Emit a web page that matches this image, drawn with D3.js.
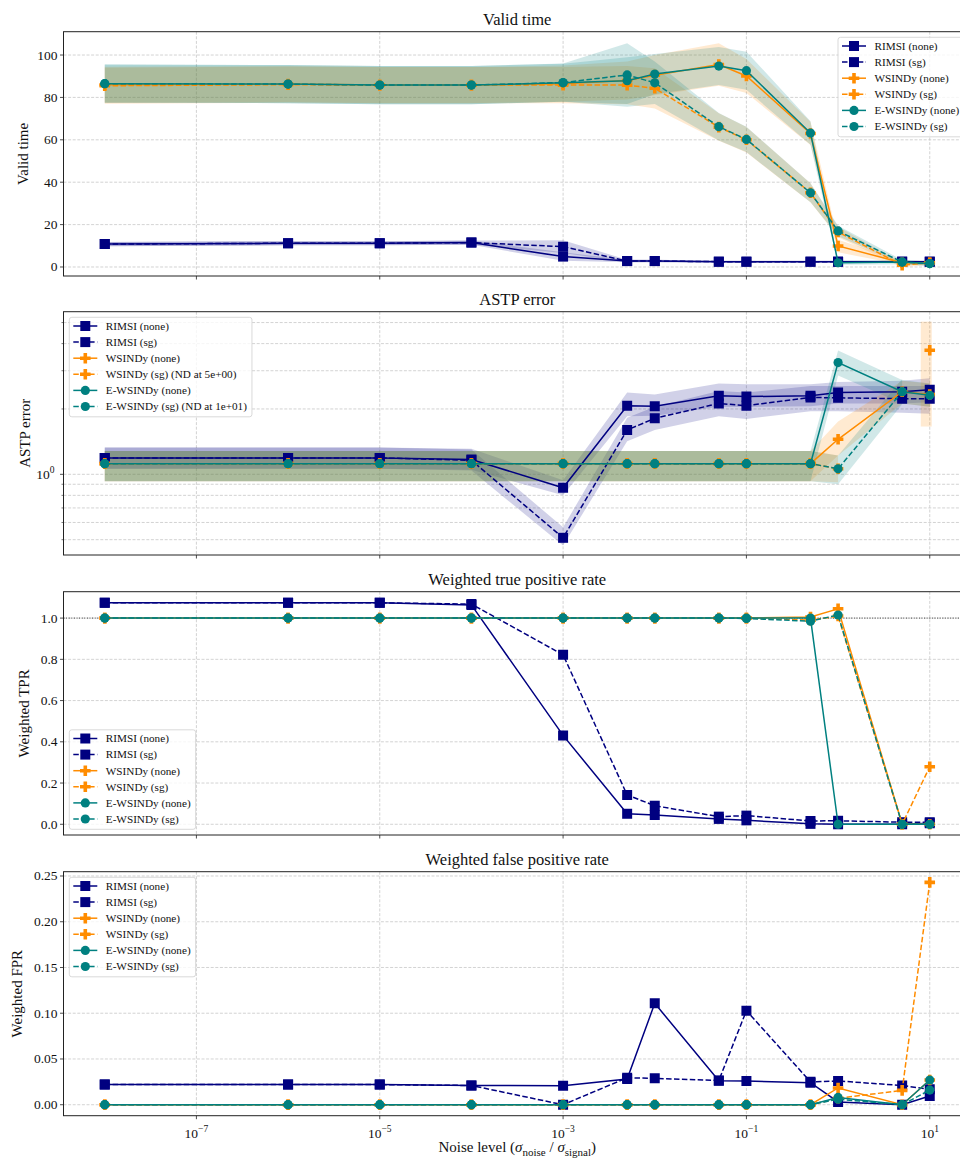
<!DOCTYPE html>
<html><head><meta charset="utf-8">
<script src="https://cdn.jsdelivr.net/npm/d3@7"></script>
<style>body{margin:0;background:#fff}svg{display:block}text{font-family:"Liberation Serif","Times New Roman",serif;fill:#111}</style>
</head><body><svg id="c" width="960" height="1160"></svg>
<script>
// ---------------- DATA ----------------
const noiseLevels = [1e-8, 1e-6, 1e-5, 1e-4, 1e-3, 5e-3, 1e-2, 5e-2, 1e-1, 5e-1, 1, 5, 10];
const seriesNames = ["RIMSI (none)", "RIMSI (sg)", "WSINDy (none)", "WSINDy (sg)", "E-WSINDy (none)", "E-WSINDy (sg)"];
const seriesMethod = ["RIMSI", "RIMSI", "WSINDy", "WSINDy", "E-WSINDy", "E-WSINDy"];
const seriesDashed = [false, true, false, true, false, true];
const methodColors = {"RIMSI": "#000080", "WSINDy": "#ff8c00", "E-WSINDy": "#008080"};
const astpLegendNames = ["RIMSI (none)", "RIMSI (sg)", "WSINDy (none)", "WSINDy (sg) (ND at 5e+00)", "E-WSINDy (none)", "E-WSINDy (sg) (ND at 1e+01)"];
const xTickValues = [1e-7, 1e-5, 1e-3, 1e-1, 1e1];
const xTickExponents = ["\u22127", "\u22125", "\u22123", "\u22121", "1"];

// Valid time (mean and spread)
const vtRimsiNone = [10.8, 11.2, 11.2, 11.5, 4.9, 2.8, 2.8, 2.5, 2.5, 2.5, 2.5, 2.5, 2.5];
const vtRimsiSg   = [10.8, 11.2, 11.2, 11.5, 9.6, 2.8, 2.8, 2.5, 2.5, 2.5, 2.5, 2.5, 2.5];
const vtWsNone    = [86.0, 86.3, 85.8, 85.8, 86.5, 88.0, 90.5, 95.5, 90.1, 63.0, 9.9, 2.0, 2.0];
const vtWsSg      = [85.5, 86.0, 85.8, 85.8, 85.8, 85.8, 84.3, 66.0, 60.0, 35.0, 16.5, 0.9, 2.0];
const vtEwNone    = [86.5, 86.3, 85.8, 85.8, 86.9, 87.9, 91.0, 94.8, 92.6, 63.2, 2.0, 2.3, 1.6];
const vtEwSg      = [86.5, 86.3, 85.8, 85.8, 87.0, 90.6, 86.9, 66.2, 60.2, 35.0, 17.0, 2.3, 1.6];
const vtSdRimsiNone = [1.0, 1.0, 1.0, 1.0, 2.0, 0.6, 0.6, 0.4, 0.4, 0.4, 0.4, 0.4, 0.4];
const vtSdRimsiSg   = [1.0, 1.0, 1.0, 1.0, 3.0, 0.6, 0.6, 0.4, 0.4, 0.4, 0.4, 0.4, 0.4];
const vtSdWsNone    = [8.5, 8.5, 8.5, 8.5, 8.5, 9.0, 9.5, 10.0, 8.0, 5.5, 3.0, 1.0, 1.0];
const vtSdWsSg      = [8.5, 8.5, 8.5, 8.5, 8.5, 9.0, 9.5, 6.5, 6.0, 4.5, 2.5, 1.0, 1.0];
const vtSdEwNone    = [9.0, 9.0, 9.0, 9.0, 9.0, 11.0, 9.5, 9.0, 9.0, 5.5, 1.0, 1.0, 1.0];
const vtSdEwSg      = [9.0, 9.0, 9.0, 9.0, 9.0, 15.0, 10.0, 6.5, 6.0, 4.5, 2.5, 1.0, 1.0];

// ASTP error (mean, lower, upper)
const astpRimsiNone = [1.19, 1.19, 1.19, 1.17, 0.867, 2.07, 2.06, 2.30, 2.28, 2.30, 2.38, 2.40, 2.45];
const astpRimsiSg   = [1.19, 1.19, 1.19, 1.16, 0.51, 1.60, 1.81, 2.12, 2.07, 2.26, 2.25, 2.23, 2.23];
const astpWsNone    = [1.12, 1.12, 1.12, 1.12, 1.12, 1.12, 1.12, 1.12, 1.12, 1.12, 1.45, 2.40, 2.33];
const astpWsSg      = [1.12, 1.12, 1.12, 1.12, 1.12, 1.12, 1.12, 1.12, 1.12, 1.12, 1.06, null, 3.73];
const astpEwNone    = [1.12, 1.12, 1.12, 1.12, 1.12, 1.12, 1.12, 1.12, 1.12, 1.12, 3.27, 2.40, 2.31];
const astpEwSg      = [1.12, 1.12, 1.12, 1.12, 1.12, 1.12, 1.12, 1.12, 1.12, 1.12, 1.06, 2.40, null];
const astpLoRimsiNone = [1.06, 1.06, 1.06, 1.05, 0.80, 1.85, 1.86, 2.05, 2.04, 2.06, 2.12, 2.12, 2.15];
const astpHiRimsiNone = [1.33, 1.33, 1.33, 1.31, 0.94, 2.38, 2.33, 2.62, 2.60, 2.60, 2.66, 2.70, 2.77];
const astpLoRimsiSg   = [1.06, 1.06, 1.06, 1.04, 0.47, 1.42, 1.60, 1.85, 1.80, 1.95, 1.95, 1.92, 1.90];
const astpHiRimsiSg   = [1.33, 1.33, 1.33, 1.30, 0.57, 1.82, 2.05, 2.42, 2.38, 2.55, 2.55, 2.55, 2.55];
const astpLoWsNone    = [0.93, 0.93, 0.93, 0.93, 0.93, 0.93, 0.93, 0.93, 0.93, 0.93, 1.22, 2.12, 2.05];
const astpHiWsNone    = [1.28, 1.28, 1.28, 1.28, 1.28, 1.28, 1.28, 1.28, 1.28, 1.28, 1.75, 2.70, 2.62];
const astpLoWsSg      = [0.93, 0.93, 0.93, 0.93, 0.93, 0.93, 0.93, 0.93, 0.93, 0.93, 0.92, null, 1.66];
const astpHiWsSg      = [1.28, 1.28, 1.28, 1.28, 1.28, 1.28, 1.28, 1.28, 1.28, 1.28, 1.22, null, 5.05];
const astpLoEwNone    = [0.93, 0.93, 0.93, 0.93, 0.93, 0.93, 0.93, 0.93, 0.93, 0.93, 2.85, 2.12, 2.05];
const astpHiEwNone    = [1.28, 1.28, 1.28, 1.28, 1.28, 1.28, 1.28, 1.28, 1.28, 1.28, 3.72, 2.72, 2.62];
const astpLoEwSg      = [0.93, 0.93, 0.93, 0.93, 0.93, 0.93, 0.93, 0.93, 0.93, 0.93, 0.90, 2.10, null];
const astpHiEwSg      = [1.28, 1.28, 1.28, 1.28, 1.28, 1.28, 1.28, 1.28, 1.28, 1.28, 1.22, 2.75, null];

// Weighted TPR
const tprRimsiNone = [1.074, 1.074, 1.074, 1.064, 0.431, 0.051, 0.045, 0.026, 0.019, 0.002, 0.0, 0.0, 0.005];
const tprRimsiSg   = [1.074, 1.074, 1.074, 1.068, 0.822, 0.142, 0.090, 0.037, 0.042, 0.016, 0.017, 0.010, 0.010];
const tprWsNone    = [1.0, 1.0, 1.0, 1.0, 1.0, 1.0, 1.0, 1.0, 1.0, 1.005, 1.045, 0.0, 0.0];
const tprWsSg      = [1.0, 1.0, 1.0, 1.0, 1.0, 1.0, 1.0, 1.0, 1.0, 0.99, 1.01, 0.0, 0.279];
const tprEwNone    = [1.0, 1.0, 1.0, 1.0, 1.0, 1.0, 1.0, 1.0, 1.0, 1.0, 0.0, 0.0, 0.0];
const tprEwSg      = [1.0, 1.0, 1.0, 1.0, 1.0, 1.0, 1.0, 1.0, 0.998, 0.985, 1.015, 0.0, 0.0];

// Weighted FPR
const fprRimsiNone = [0.022, 0.022, 0.022, 0.021, 0.0208, 0.028, 0.1108, 0.0263, 0.0259, 0.0241, 0.003, 0.0, 0.0095];
const fprRimsiSg   = [0.022, 0.022, 0.022, 0.021, 0.0, 0.0295, 0.0288, 0.0265, 0.1028, 0.025, 0.026, 0.021, 0.0168];
const fprWsNone    = [0.0, 0.0, 0.0, 0.0, 0.0, 0.0, 0.0, 0.0, 0.0, 0.0, 0.0183, 0.0, 0.027];
const fprWsSg      = [0.0, 0.0, 0.0, 0.0, 0.0, 0.0, 0.0, 0.0, 0.0, 0.0, 0.007, 0.0157, 0.243];
const fprEwNone    = [0.0, 0.0, 0.0, 0.0, 0.0, 0.0, 0.0, 0.0, 0.0, 0.0, 0.008, 0.0, 0.027];
const fprEwSg      = [0.0, 0.0, 0.0, 0.0, 0.0, 0.0, 0.0, 0.0, 0.0, 0.0, 0.006, 0.0, 0.016];

// ---------------- BUILD ----------------
const svg = d3.select("#c");
const X0 = 63.5, X1 = 971;
const x = d3.scaleLog().domain([Math.pow(10, -8.45), Math.pow(10, 1.45)]).range([X0, X1]);

const vtVals = [vtRimsiNone, vtRimsiSg, vtWsNone, vtWsSg, vtEwNone, vtEwSg];
const vtSds = [vtSdRimsiNone, vtSdRimsiSg, vtSdWsNone, vtSdWsSg, vtSdEwNone, vtSdEwSg];
const panels = [
  {title: "Valid time", ylabel: "Valid time", top: 31.7, bottom: 276, type: "lin",
   domain: [-4.25, 111.0], ticks: [0, 20, 40, 60, 80, 100], fmt: d3.format("d"), ylabX: 28,
   vals: vtVals,
   lo: vtVals.map((v, i) => v.map((d, j) => d - vtSds[i][j])),
   hi: vtVals.map((v, i) => v.map((d, j) => d + vtSds[i][j])),
   legend: {names: seriesNames, anchor: "tr", left: 838, top: 37.3}},
  {title: "ASTP error", ylabel: "ASTP error", top: 311.7, bottom: 555, type: "log",
   domain: [0.425, 5.61], ticks: [1], minor: [0.5, 0.6, 0.7, 0.8, 0.9, 2, 3, 4, 5], ylabX: 30,
   vals: [astpRimsiNone, astpRimsiSg, astpWsNone, astpWsSg, astpEwNone, astpEwSg],
   lo: [astpLoRimsiNone, astpLoRimsiSg, astpLoWsNone, astpLoWsSg, astpLoEwNone, astpLoEwSg],
   hi: [astpHiRimsiNone, astpHiRimsiSg, astpHiWsNone, astpHiWsSg, astpHiEwNone, astpHiEwSg],
   legend: {names: astpLegendNames, anchor: "tl", left: 69.3, top: 317.3}},
  {title: "Weighted true positive rate", ylabel: "Weighted TPR", top: 591.7, bottom: 835, type: "lin",
   domain: [-0.052, 1.128], ticks: [0, 0.2, 0.4, 0.6, 0.8, 1.0], fmt: d3.format(".1f"), ylabX: 29, refLine: 1.0,
   vals: [tprRimsiNone, tprRimsiSg, tprWsNone, tprWsSg, tprEwNone, tprEwSg],
   legend: {names: seriesNames, anchor: "bl", left: 69.3, top: 729.8}},
  {title: "Weighted false positive rate", ylabel: "Weighted FPR", top: 871.7, bottom: 1115.7, type: "lin",
   domain: [-0.012, 0.2547], ticks: [0, 0.05, 0.10, 0.15, 0.20, 0.25], fmt: d3.format(".2f"), ylabX: 22, xLabels: true,
   vals: [fprRimsiNone, fprRimsiSg, fprWsNone, fprWsSg, fprEwNone, fprEwSg],
   legend: {names: seriesNames, anchor: "tl", left: 69.3, top: 877.3}}
];

function markerPath(method) {
  if (method === "RIMSI") { const s = 10; return `M${-s/2},${-s/2}h${s}v${s}h${-s}Z`; }
  if (method === "WSINDy") {
    const a = 5.3, t = 1.8;
    return `M${-t},${-a}H${t}V${-t}H${a}V${t}H${t}V${a}H${-t}V${t}H${-a}V${-t}H${-t}Z`;
  }
  return d3.symbol(d3.symbolCircle, Math.PI * 4.6 * 4.6)();
}

const gridColor = "#c8c8c8";
const FONT_TICK = 13.5;

panels.forEach((p, pi) => {
  const y = (p.type === "log" ? d3.scaleLog() : d3.scaleLinear()).domain(p.domain).range([p.bottom, p.top]);
  const g = svg.append("g");
  const clipId = "clip" + pi;
  svg.append("clipPath").attr("id", clipId).append("rect")
    .attr("x", X0).attr("y", p.top).attr("width", X1 - X0).attr("height", p.bottom - p.top);

  // grid
  const gridG = g.append("g").attr("stroke", gridColor).attr("stroke-width", 0.8).attr("stroke-dasharray", "3,1.6");
  xTickValues.forEach(v => gridG.append("line").attr("x1", x(v)).attr("x2", x(v)).attr("y1", p.top).attr("y2", p.bottom));
  const yGrid = p.ticks.concat(p.minor || []);
  yGrid.forEach(v => gridG.append("line").attr("x1", X0).attr("x2", X1).attr("y1", y(v)).attr("y2", y(v)));

  if (p.refLine !== undefined) {
    g.append("line").attr("x1", X0).attr("x2", X1).attr("y1", y(p.refLine)).attr("y2", y(p.refLine))
      .attr("stroke", "#222").attr("stroke-width", 0.9).attr("stroke-dasharray", "1,1.6");
  }

  const plotG = g.append("g").attr("clip-path", `url(#${clipId})`);
  // bands
  if (p.lo) {
    p.vals.forEach((vals, si) => {
      const col = methodColors[seriesMethod[si]];
      const pts = noiseLevels.map((n, j) => ({n, lo: p.lo[si][j], hi: p.hi[si][j]}));
      const def = d => d.lo != null && d.hi != null;
      const area = d3.area().defined(def).x(d => x(d.n)).y0(d => y(d.lo)).y1(d => y(d.hi));
      plotG.append("path").attr("d", area(pts)).attr("fill", col).attr("fill-opacity", 0.18).attr("stroke", "none");
      // isolated points: draw a thin bar
      pts.forEach((d, j) => {
        if (!def(d)) return;
        const prev = j > 0 && def(pts[j - 1]);
        const next = j < pts.length - 1 && def(pts[j + 1]);
        if (!prev && !next) {
          plotG.append("rect").attr("x", x(d.n) - 9).attr("width", 11)
            .attr("y", y(d.hi)).attr("height", y(d.lo) - y(d.hi))
            .attr("fill", col).attr("fill-opacity", 0.18);
        }
      });
    });
  }
  // lines + markers
  p.vals.forEach((vals, si) => {
    const col = methodColors[seriesMethod[si]];
    const pts = noiseLevels.map((n, j) => ({n, v: vals[j]}));
    const line = d3.line().defined(d => d.v != null).x(d => x(d.n)).y(d => y(d.v));
    plotG.append("path").attr("d", line(pts)).attr("fill", "none").attr("stroke", col)
      .attr("stroke-width", 1.5).attr("stroke-dasharray", seriesDashed[si] ? "5.5,2.4" : null);
    const mp = markerPath(seriesMethod[si]);
    pts.filter(d => d.v != null).forEach(d => {
      plotG.append("path").attr("d", mp).attr("transform", `translate(${x(d.n)},${y(d.v)})`).attr("fill", col);
    });
  });

  // frame
  g.append("rect").attr("x", X0).attr("y", p.top).attr("width", X1 - X0).attr("height", p.bottom - p.top)
    .attr("fill", "none").attr("stroke", "#222").attr("stroke-width", 1);

  // x ticks
  xTickValues.forEach((v, i) => {
    g.append("line").attr("x1", x(v)).attr("x2", x(v)).attr("y1", p.bottom).attr("y2", p.bottom + 3.5)
      .attr("stroke", "#222").attr("stroke-width", 0.8);
    if (p.xLabels) {
      const t = g.append("text").attr("x", x(v)).attr("y", p.bottom + 22).attr("text-anchor", "middle")
        .attr("font-size", FONT_TICK);
      t.append("tspan").text("10");
      t.append("tspan").attr("dy", -6).attr("font-size", 9.5).text(xTickExponents[i]);
    }
  });

  // y ticks
  p.ticks.forEach(v => {
    g.append("line").attr("x1", X0 - 3.5).attr("x2", X0).attr("y1", y(v)).attr("y2", y(v))
      .attr("stroke", "#222").attr("stroke-width", 0.8);
    if (p.type === "log") {
      const t = g.append("text").attr("x", X0 - 9).attr("y", y(v) + 4.5).attr("text-anchor", "end")
        .attr("font-size", FONT_TICK);
      t.append("tspan").text("10");
      t.append("tspan").attr("dy", -6).attr("font-size", 9.5).text("0");
    } else {
      g.append("text").attr("x", X0 - 6).attr("y", y(v) + 4.5).attr("text-anchor", "end")
        .attr("font-size", FONT_TICK).text(p.fmt(v));
    }
  });
  (p.minor || []).forEach(v => {
    g.append("line").attr("x1", X0 - 2).attr("x2", X0).attr("y1", y(v)).attr("y2", y(v))
      .attr("stroke", "#222").attr("stroke-width", 0.6);
  });

  // title
  g.append("text").attr("x", (X0 + X1) / 2).attr("y", p.top - 7).attr("text-anchor", "middle")
    .attr("font-size", 16.5).text(p.title);
  // y label
  g.append("text").attr("transform", `translate(${p.ylabX},${(p.top + p.bottom) / 2}) rotate(-90)`)
    .attr("text-anchor", "middle").attr("font-size", 15).text(p.ylabel);

  // legend
  const L = p.legend;
  const lg = svg.append("g");
  const box = lg.append("rect").attr("rx", 2.5).attr("fill", "#fff").attr("fill-opacity", 0.8)
    .attr("stroke", "#cfcfcf").attr("stroke-width", 0.8);
  const rowH = 16.1;
  let maxW = 0;
  const texts = [];
  L.names.forEach((name, i) => {
    const ry = L.top + 8.7 + i * rowH;
    const col = methodColors[seriesMethod[i]];
    lg.append("line").attr("x1", L.left + 4).attr("x2", L.left + 28).attr("y1", ry).attr("y2", ry)
      .attr("stroke", col).attr("stroke-width", 1.5).attr("stroke-dasharray", seriesDashed[i] ? "5.5,2.4" : null);
    lg.append("path").attr("d", markerPath(seriesMethod[i])).attr("transform", `translate(${L.left + 16},${ry})`).attr("fill", col);
    const t = lg.append("text").attr("x", L.left + 36.5).attr("y", ry + 3.8).attr("font-size", 11.2).text(name);
    texts.push(t);
    maxW = Math.max(maxW, t.node().getComputedTextLength());
  });
  const bw = 36.5 + maxW + 5;
  box.attr("x", L.left).attr("y", L.top).attr("width", bw).attr("height", 99.5);
});

// x axis label
const xl = svg.append("text").attr("x", (X0 + X1) / 2).attr("y", 1152).attr("text-anchor", "middle").attr("font-size", 15);
xl.append("tspan").text("Noise level (");
xl.append("tspan").attr("font-style", "italic").text("\u03c3");
xl.append("tspan").attr("dy", 3.5).attr("font-size", 11).text("noise");
xl.append("tspan").attr("dy", -3.5).text(" / ");
xl.append("tspan").attr("font-style", "italic").text("\u03c3");
xl.append("tspan").attr("dy", 3.5).attr("font-size", 11).text("signal");
xl.append("tspan").attr("dy", -3.5).text(")");
</script>
</body></html>
